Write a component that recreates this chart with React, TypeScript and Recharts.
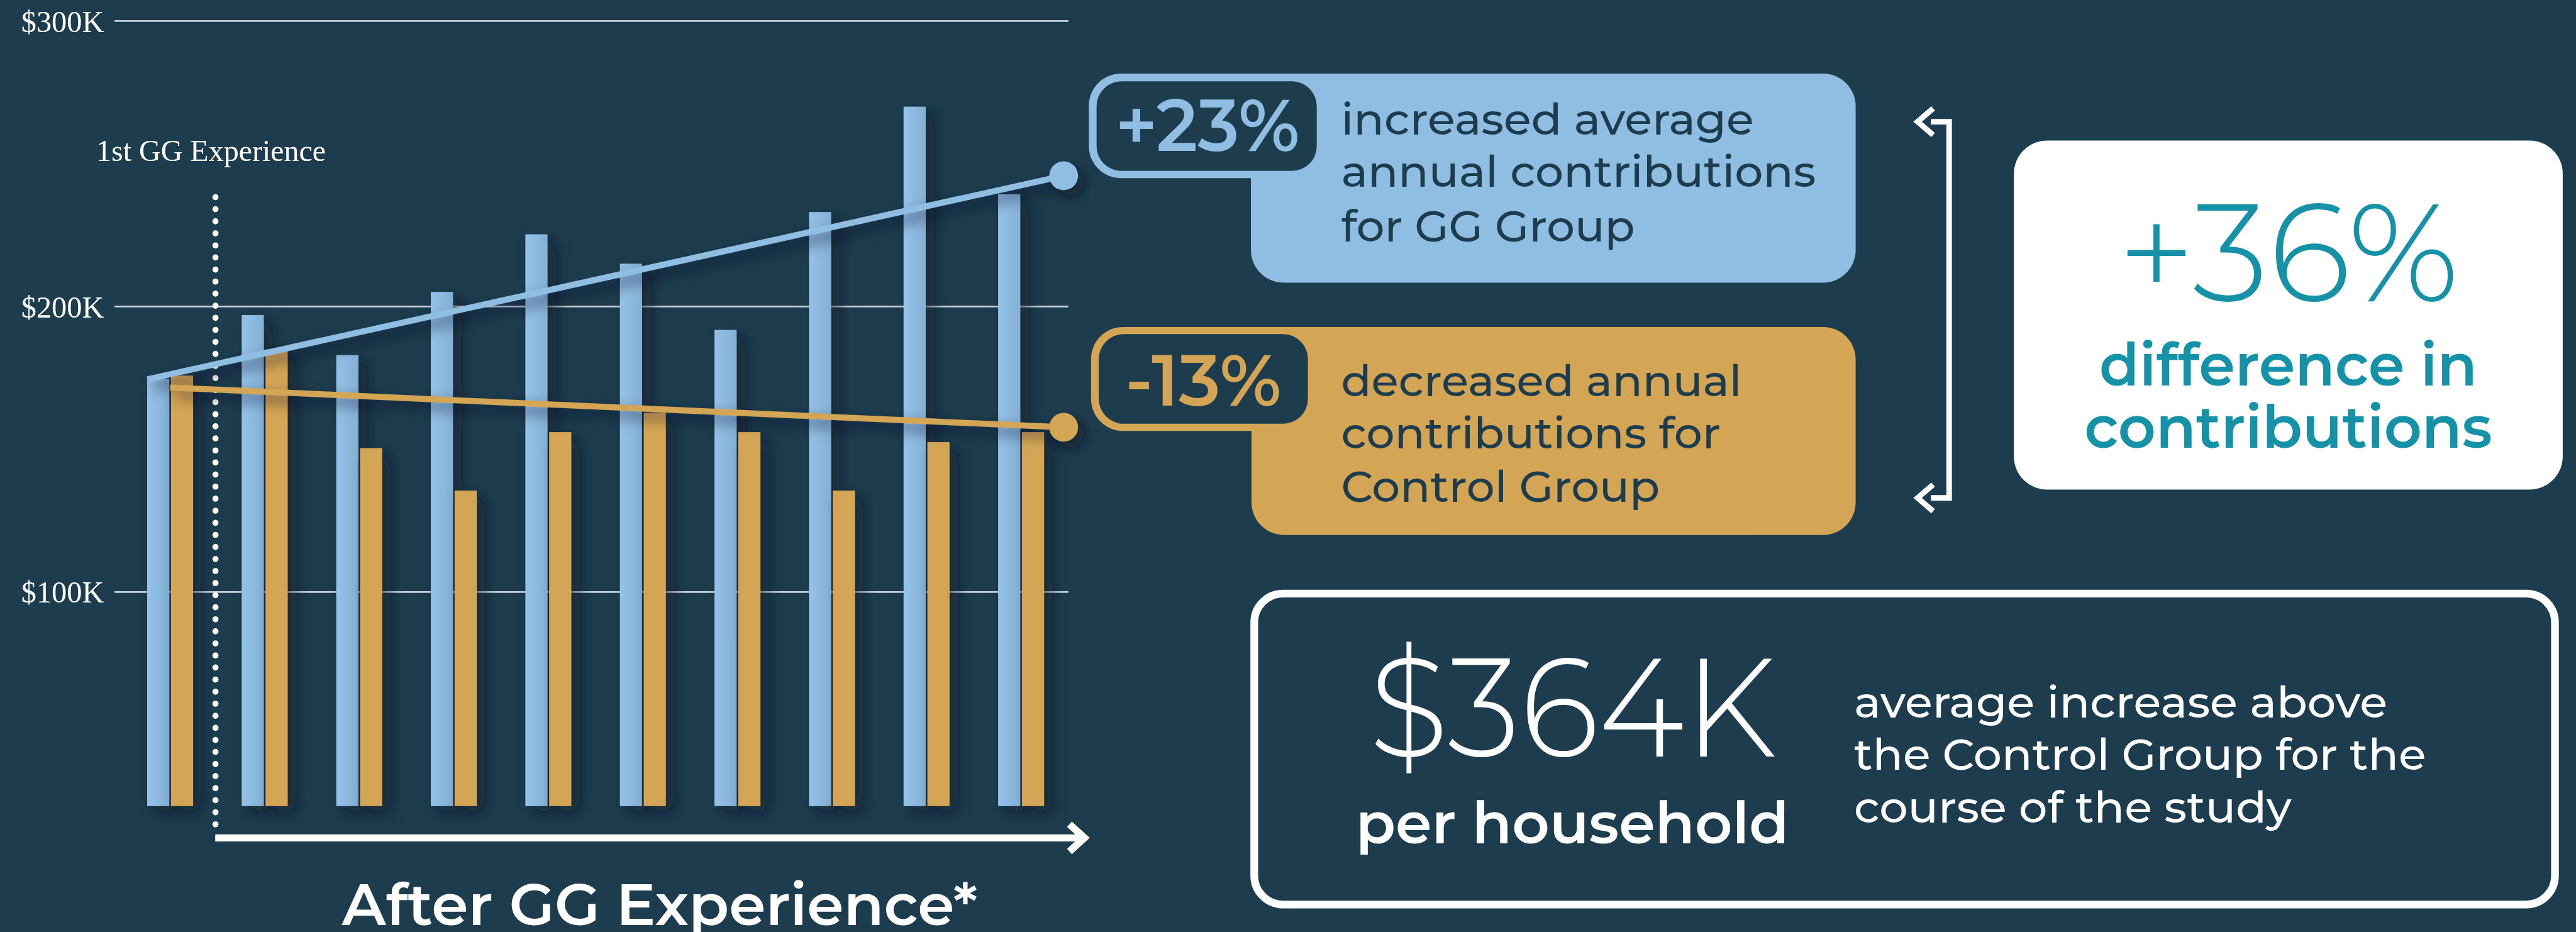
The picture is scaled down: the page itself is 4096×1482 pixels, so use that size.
import React from 'react';
import {
  ComposedChart,
  Bar,
  Scatter,
  XAxis,
  YAxis,
  CartesianGrid,
  ReferenceLine,
} from 'recharts';

// yearly average contributions ($K)
const periods = ['Y1', 'Y2', 'Y3', 'Y4', 'Y5', 'Y6', 'Y7', 'Y8', 'Y9', 'Y10'];
const ggGroup = [174.7, 197.0, 183.0, 205.1, 225.3, 215.0, 191.8, 233.1, 270.0, 239.3];
const controlGroup = [175.8, 185.0, 150.4, 135.5, 156.0, 162.8, 156.0, 135.5, 152.5, 156.0];
const yTicks = [100, 200, 300];
const Y_DOMAIN: [number, number] = [25, 300];

// trend lines, x in period index units
const TREND_END = 9.45;
const ggTrend = [
  { x: -0.24, y: 174.5 },
  { x: TREND_END, y: 245.8 },
];
const controlTrend = [
  { x: 0, y: 171.6 },
  { x: TREND_END, y: 157.7 },
];
const firstExperience = { x: 0.48, top: 238.3, bottom: 18.6 };

const BG = '#1d3d4f';
const BLUE = '#90bee3';
const GOLD = '#d4a554';
const TEAL = '#1591a8';
const SANS = "'Montserrat', 'Open Sans', sans-serif";
const SERIF = "'Liberation Serif', 'Times New Roman', serif";

// reference is 4656x1685, window is 4096x1482
const W = 4656;
const H = 1685;
const SCALE = 4096 / 4656;

const chartData = periods.map((p, i) => ({
  period: p,
  gg: ggGroup[i],
  control: controlGroup[i],
}));

const barShape = (props: any) => (
  <rect
    x={props.x}
    y={props.y}
    width={props.width}
    height={props.height}
    fill={props.fill}
    filter="url(#barShadow)"
  />
);

const endDot = (color: string) => (props: any) =>
  props.payload && props.payload.x === TREND_END ? (
    <circle cx={props.cx} cy={props.cy} r={26} fill={color} filter="url(#dotShadow)" />
  ) : (
    <g />
  );

// gridlines only at the labelled ticks (linear y domain)
const gridRows = ({ offset }: any) =>
  yTicks.map(
    (t) => offset.top + ((Y_DOMAIN[1] - t) / (Y_DOMAIN[1] - Y_DOMAIN[0])) * offset.height
  );

interface TxtProps {
  x: number;
  y: number;
  w: number;
  size: number;
  weight?: number;
  fill: string;
  anchor?: 'start' | 'middle' | 'end';
  family?: string;
  children: React.ReactNode;
}

const Txt: React.FC<TxtProps> = ({ x, y, w, size, weight = 600, fill, anchor = 'start', family = SANS, children }) => (
  <text
    x={x}
    y={y}
    fontSize={size}
    fontWeight={weight}
    fill={fill}
    fontFamily={family}
    textAnchor={anchor}
    textLength={w}
    lengthAdjust="spacingAndGlyphs"
  >
    {children}
  </text>
);

const Overlay: React.FC = () => (
  <svg
    width={W}
    height={H}
    style={{ position: 'absolute', left: 0, top: 0, pointerEvents: 'none' }}
  >
    {/* marker label */}
    <Txt x={174} y={291} w={415} size={55} weight={400} fill="#fff" family={SERIF}>
      1st GG Experience
    </Txt>

    {/* time arrow */}
    <line x1={389} y1={1514.5} x2={1958} y2={1514.5} stroke="#fff" strokeWidth={13} />
    <polyline
      points="1933,1490 1960,1514.5 1933,1539"
      fill="none"
      stroke="#fff"
      strokeWidth={13}
    />
    <Txt x={618} y={1672} w={1149} size={104} fill="#fff">
      After GG Experience*
    </Txt>

    {/* GG group panel */}
    <rect x={2261} y={133} width={1093} height={378} rx={59} fill={BLUE} />
    <rect x={1968} y={133} width={425} height={189} rx={58} fill={BLUE} />
    <rect x={1982} y={147} width={398} height={162} rx={45} fill={BG} />
    <Txt x={2016} y={273} w={333} size={132} fill={BLUE}>+23%</Txt>
    <Txt x={2424} y={243} w={746} size={78} weight={500} fill={BG}>increased average</Txt>
    <Txt x={2424} y={338} w={858} size={78} weight={500} fill={BG}>annual contributions</Txt>
    <Txt x={2424} y={436} w={531} size={78} weight={500} fill={BG}>for GG Group</Txt>

    {/* control group panel */}
    <rect x={2262} y={591} width={1092} height={376} rx={59} fill={GOLD} />
    <rect x={1972} y={591} width={406} height={188} rx={58} fill={GOLD} />
    <rect x={1986} y={604} width={378} height={162} rx={45} fill={BG} />
    <Txt x={2034} y={733} w={282} size={130} fill={GOLD}>-13%</Txt>
    <Txt x={2424} y={716} w={724} size={78} weight={500} fill={BG}>decreased annual</Txt>
    <Txt x={2424} y={811} w={686} size={78} weight={500} fill={BG}>contributions for</Txt>
    <Txt x={2424} y={907} w={576} size={78} weight={500} fill={BG}>Control Group</Txt>

    {/* bracket */}
    <polyline
      points="3490,220 3523,220 3523,900 3490,900"
      fill="none"
      stroke="#fff"
      strokeWidth={10}
    />
    <polyline points="3494,196 3466,220 3494,244" fill="none" stroke="#fff" strokeWidth={10} />
    <polyline points="3494,876 3466,900 3494,924" fill="none" stroke="#fff" strokeWidth={10} />

    {/* difference box */}
    <rect x={3640} y={254} width={992} height={631} rx={60} fill="#fff" />
    <Txt x={4136} y={544} w={617} size={250} weight={300} fill={TEAL} anchor="middle">+36%</Txt>
    <Txt x={4136} y={697} w={683} size={108} fill={TEAL} anchor="middle">difference in</Txt>
    <Txt x={4136} y={809} w={737} size={108} fill={TEAL} anchor="middle">contributions</Txt>

    {/* per household box */}
    <rect x={2267} y={1073} width={2351} height={562} rx={52} fill="none" stroke="#fff" strokeWidth={14} />
    <Txt x={2842} y={1368} w={736} size={252} weight={300} fill="#fff" anchor="middle">$364K</Txt>
    <Txt x={2842} y={1524} w={783} size={106} weight={600} fill="#fff" anchor="middle">per household</Txt>
    <Txt x={3351} y={1297} w={964} size={78} weight={500} fill="#fff">average increase above</Txt>
    <Txt x={3351} y={1391} w={1034} size={78} weight={500} fill="#fff">the Control Group for the</Txt>
    <Txt x={3351} y={1487} w={791} size={78} weight={500} fill="#fff">course of the study</Txt>
  </svg>
);

const App: React.FC = () => (
  <div
    style={{
      position: 'absolute',
      left: 0,
      top: 0,
      width: 4096,
      height: 1482,
      overflow: 'hidden',
      background: BG,
    }}
  >
    <div
      style={{
        position: 'absolute',
        left: 0,
        top: 0,
        width: W,
        height: H,
        transform: `scale(${SCALE})`,
        transformOrigin: '0 0',
      }}
    >
      <ComposedChart
        width={W}
        height={H}
        data={chartData}
        margin={{ top: 38, right: 2725, bottom: 228, left: 0 }}
        barSize={40}
        barGap={3}
        style={{ overflow: 'visible' }}
      >
        <defs>
          <filter id="barShadow" x="-100%" y="-5%" width="400%" height="115%">
            <feDropShadow dx="14" dy="12" stdDeviation="14" floodColor="#07141b" floodOpacity="0.55" />
          </filter>
          <filter id="dotShadow" x="-100%" y="-100%" width="300%" height="300%">
            <feDropShadow dx="12" dy="12" stdDeviation="12" floodColor="#07141b" floodOpacity="0.6" />
          </filter>
          <linearGradient id="blueBar" x1="0" y1="0" x2="1" y2="0">
            <stop offset="0%" stopColor="#94c2e8" />
            <stop offset="100%" stopColor="#85b0d6" />
          </linearGradient>
        </defs>
        <CartesianGrid
          vertical={false}
          stroke="#c9d2d6"
          strokeWidth={3}
          horizontalCoordinatesGenerator={gridRows}
        />
        <XAxis dataKey="period" hide padding={{ left: 15, right: 0 }} />
        <XAxis
          xAxisId="trend"
          type="number"
          dataKey="x"
          domain={[-0.5, 9.5]}
          hide
          padding={{ left: 15, right: 0 }}
        />
        <YAxis
          width={207}
          domain={Y_DOMAIN}
          ticks={yTicks}
          tickFormatter={(v: number) => `$${v}K`}
          tick={{ fill: '#ffffff', fontSize: 55, fontFamily: SERIF }}
          tickLine={false}
          axisLine={false}
          tickSize={0}
          tickMargin={19}
        />
        <Bar dataKey="gg" fill="url(#blueBar)" shape={barShape} isAnimationActive={false} />
        <Bar dataKey="control" fill={GOLD} shape={barShape} isAnimationActive={false} />
        <ReferenceLine
          xAxisId="trend"
          segment={[
            { x: firstExperience.x, y: firstExperience.top },
            { x: firstExperience.x, y: firstExperience.bottom },
          ]}
          ifOverflow="visible"
          stroke="#ffffff"
          strokeWidth={11}
          strokeDasharray="0 21.8"
          strokeLinecap="round"
        />
        <Scatter
          xAxisId="trend"
          data={ggTrend}
          dataKey="y"
          line={{ stroke: BLUE, strokeWidth: 11, filter: 'url(#dotShadow)' }}
          shape={endDot(BLUE)}
          isAnimationActive={false}
        />
        <Scatter
          xAxisId="trend"
          data={controlTrend}
          dataKey="y"
          line={{ stroke: GOLD, strokeWidth: 11, filter: 'url(#dotShadow)' }}
          shape={endDot(GOLD)}
          isAnimationActive={false}
        />
      </ComposedChart>
      <Overlay />
    </div>
  </div>
);

export default App;
